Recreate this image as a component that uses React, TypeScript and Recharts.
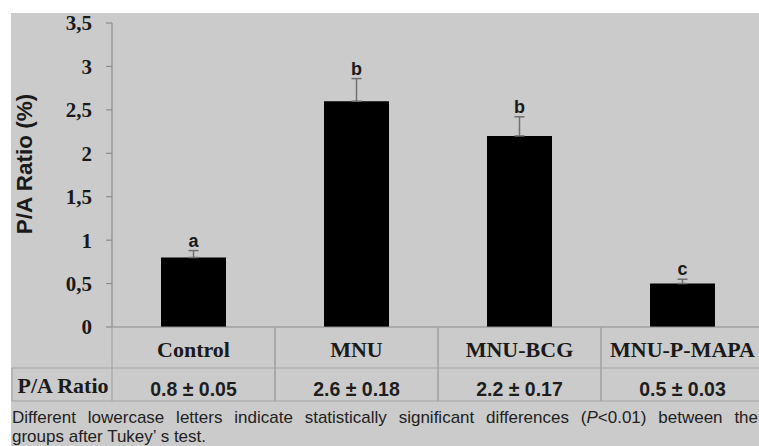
import React from 'react';
import { ComposedChart, Bar, Line, XAxis, YAxis, ErrorBar, LabelList, Label } from 'recharts';

const categories = ['Control', 'MNU', 'MNU-BCG', 'MNU-P-MAPA'];
const means = [0.8, 2.6, 2.2, 0.5];
const tableSd = [0.05, 0.18, 0.17, 0.03];
const drawnErrors = [0.08, 0.26, 0.22, 0.05];
const letters = ['a', 'b', 'b', 'c'];
const yTicks = [0, 0.5, 1, 1.5, 2, 2.5, 3, 3.5];
const rowHeader = 'P/A Ratio';
const yLabel = 'P/A Ratio (%)';
const noteLine1 = 'Different lowercase letters indicate statistically significant differences (';
const noteLine1b = '<0.01) between the';
const noteLine2 = 'groups after Tukey\u2019 s test.';

const data = categories.map((c, i) => ({
  name: c,
  mean: means[i],
  err: [0, drawnErrors[i]],
  top: means[i] + drawnErrors[i],
  letter: letters[i],
  cell: `${means[i].toFixed(1)} \u00b1 ${tableSd[i].toFixed(2)}`,
}));

const CHART_W = 780;
const CHART_H = 446;
const YAXIS_W = 112;
const MARGIN = { top: 23, right: 16, bottom: 29, left: 0 };
const XAXIS_H = 90;
const BAND = (CHART_W - YAXIS_W - MARGIN.right - MARGIN.left) / categories.length;

const SERIF = '"Liberation Serif", "Times New Roman", serif';
const SANS = '"Liberation Sans", Arial, sans-serif';
const LINE = '#a3a3a3';

const TableTick = (props: any) => {
  const { x, y, index } = props;
  const d = data[index];
  const l = x - BAND / 2;
  const r = x + BAND / 2;
  return (
    <g>
      <line x1={l} y1={y} x2={l} y2={y + 74} stroke={LINE} strokeWidth={1.2} />
      <line x1={r} y1={y} x2={r} y2={y + 74} stroke={LINE} strokeWidth={1.2} />
      <line x1={l} y1={y + 41} x2={r} y2={y + 41} stroke={LINE} strokeWidth={1.2} />
      <line x1={l} y1={y + 74} x2={r} y2={y + 74} stroke={LINE} strokeWidth={1.2} />
      <text x={x} y={y + 30} textAnchor="middle" style={{ fontFamily: SERIF, fontWeight: 'bold', fontSize: 22 }} fill="#1a1a1a">
        {d.name}
      </text>
      <text x={x} y={y + 69} textAnchor="middle" style={{ fontFamily: SANS, fontWeight: 'bold', fontSize: 19.5 }} fill="#1e1e1e">
        {d.cell}
      </text>
      {index === 0 && (
        <g>
          <line x1={12} y1={y + 41} x2={l} y2={y + 41} stroke={LINE} strokeWidth={1.2} />
          <line x1={12} y1={y + 74} x2={l} y2={y + 74} stroke={LINE} strokeWidth={1.2} />
          <line x1={12} y1={y + 41} x2={12} y2={y + 74} stroke={LINE} strokeWidth={1.2} />
          <text x={(12 + l) / 2 + 1} y={y + 66} textAnchor="middle" style={{ fontFamily: SERIF, fontWeight: 'bold', fontSize: 22 }} fill="#1a1a1a">
            {rowHeader}
          </text>
        </g>
      )}
    </g>
  );
};

const YLabel = (props: any) => {
  const vb = props.viewBox || { x: 0, y: 23, width: 112, height: 304 };
  const cx = vb.x + 24;
  const cy = vb.y + vb.height / 2 - 11;
  return (
    <text
      x={cx}
      y={cy}
      transform={`rotate(-90, ${cx}, ${cy})`}
      textAnchor="middle"
      dominantBaseline="central"
      style={{ fontFamily: SANS, fontWeight: 'bold', fontSize: 22.5 }}
      fill="#1a1a1a"
    >
      {yLabel}
    </text>
  );
};

const noteStyle: React.CSSProperties = {
  position: 'absolute',
  left: 12,
  width: 746,
  fontFamily: SANS,
  fontSize: 17,
  lineHeight: '17px',
  color: '#222',
};

export default function App() {
  return (
    <div style={{ position: 'relative', width: 759, height: 446, overflow: 'hidden', background: '#fff' }}>
      <style>{'body{margin:0;overflow:hidden}'}</style>
      <div style={{ position: 'absolute', left: 11, top: 13, right: 0, bottom: 0, background: '#cbcbcb' }} />
      <div style={{ position: 'absolute', left: 0, top: 0 }}>
        <ComposedChart width={CHART_W} height={CHART_H} data={data} margin={MARGIN}>
          <XAxis
            dataKey="name"
            height={XAXIS_H}
            tickLine={false}
            tickSize={0}
            tickMargin={0}
            axisLine={{ stroke: '#8c8c8c', strokeWidth: 1.2 }}
            tick={<TableTick />}
            interval={0}
          />
          <YAxis
            width={YAXIS_W}
            domain={[0, 3.5]}
            ticks={yTicks}
            interval={0}
            tickSize={6}
            tickMargin={14}
            axisLine={{ stroke: '#8c8c8c', strokeWidth: 1.2 }}
            tickLine={{ stroke: '#8c8c8c', strokeWidth: 1.2 }}
            tickFormatter={(v: number) => String(v).replace('.', ',')}
            tick={{ style: { fontFamily: SERIF, fontWeight: 'bold', fontSize: 21 }, fill: '#1a1a1a' }}
          >
            <Label content={<YLabel />} />
          </YAxis>
          <Bar dataKey="mean" fill="#000" barSize={65} isAnimationActive={false}>
            <ErrorBar dataKey="err" direction="y" width={5} stroke="#707070" strokeWidth={1.5} />
          </Bar>
          <Line dataKey="top" stroke="none" dot={false} activeDot={false} isAnimationActive={false} legendType="none">
            <LabelList dataKey="letter" position="top" offset={4} style={{ fontFamily: SANS, fontWeight: 'bold', fontSize: 18 }} fill="#1a1a1a" />
          </Line>
        </ComposedChart>
      </div>
      <div style={{ ...noteStyle, top: 409, textAlign: 'justify', textAlignLast: 'justify' as any, whiteSpace: 'nowrap' }}>
        {noteLine1}
        <i>P</i>
        {noteLine1b}
      </div>
      <div style={{ ...noteStyle, top: 428 }}>{noteLine2}</div>
    </div>
  );
}
